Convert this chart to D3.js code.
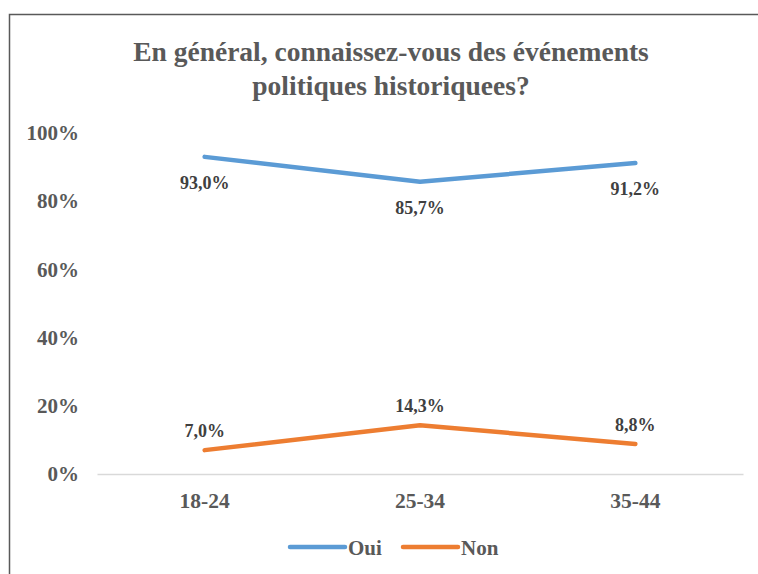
<!DOCTYPE html>
<html><head><meta charset="utf-8">
<script src="https://cdn.jsdelivr.net/npm/d3@7"></script>
<style>body{margin:0;background:#fff}svg{display:block}</style>
</head><body>
<svg id="c" width="758" height="574"></svg>
<script>
const categories = ["18-24", "25-34", "35-44"];
const seriesNames = ["Oui", "Non"];
const ouiValues = [93.0, 85.7, 91.2];
const nonValues = [7.0, 14.3, 8.8];
const yTicks = [0, 20, 40, 60, 80, 100];
const colors = ["#5B9BD5", "#ED7D31"];
const titleLines = ["En général, connaissez-vous des événements", "politiques historiquees?"];

const svg = d3.select("#c");
const font = "Liberation Serif";
// border
svg.append("path").attr("d", "M9.5,574 V14.5 H758").attr("fill", "none").attr("stroke", "#595959").attr("stroke-width", 1.5);

const x = d3.scaleBand().domain(categories).range([97, 743]);
const y = d3.scaleLinear().domain([0, 100]).range([474, 133]);

// title
svg.append("g").selectAll("text").data(titleLines).join("text")
  .attr("x", 391).attr("y", (d, i) => 61 + i * 34)
  .attr("text-anchor", "middle").attr("font-family", font).attr("font-weight", "bold")
  .attr("font-size", 27.5).attr("fill", "#595959").text(d => d);

// y axis labels
const yAxis = d3.axisLeft(y).tickValues(yTicks).tickFormat(d => d + "%").tickSize(0).tickPadding(18);
const ga = svg.append("g").attr("transform", "translate(97,0)").call(yAxis)
  .attr("font-family", font);
ga.select(".domain").remove();
ga.selectAll("text").attr("font-family", font).attr("font-weight", "bold").attr("font-size", 21).attr("fill", "#595959");

// x axis
const xAxis = d3.axisBottom(x).tickSize(0).tickPadding(14);
const gx = svg.append("g").attr("transform", "translate(0,474)").call(xAxis)
  .attr("font-family", font);
gx.select(".domain").attr("stroke", "#d9d9d9").attr("stroke-width", 1.5);
gx.selectAll("text").attr("y", 34).attr("dy", 0).attr("font-family", font).attr("font-weight", "bold").attr("font-size", 21.5).attr("fill", "#595959");

const series = [ouiValues, nonValues];
const line = d3.line().x((d, i) => x(categories[i]) + x.bandwidth() / 2).y(d => y(d));
series.forEach((vals, si) => {
  svg.append("path").datum(vals).attr("d", line).attr("fill", "none")
    .attr("stroke", colors[si]).attr("stroke-width", 4.5).attr("stroke-linecap", "round").attr("stroke-linejoin", "round");
  svg.append("g").selectAll("text").data(vals).join("text")
    .attr("x", (d, i) => x(categories[i]) + x.bandwidth() / 2)
    .attr("y", d => si === 0 ? y(d) + 32 : y(d) - 13)
    .attr("text-anchor", "middle").attr("font-family", font).attr("font-weight", "bold")
    .attr("font-size", 18).attr("fill", "#404040")
    .text(d => d.toFixed(1).replace(".", ",") + "%");
});

// legend
const legendX = [290, 403];
const lg = svg.append("g").selectAll("g").data(seriesNames).join("g")
  .attr("transform", (d, i) => `translate(${legendX[i]},547)`);
lg.append("line").attr("x1", 0).attr("x2", 55).attr("stroke", (d, i) => colors[i])
  .attr("stroke-width", 4.5).attr("stroke-linecap", "round");
lg.append("text").attr("x", 58).attr("y", 7.5).attr("font-family", font).attr("font-weight", "bold")
  .attr("font-size", 21).attr("fill", "#595959").text(d => d);
</script>
</body></html>
